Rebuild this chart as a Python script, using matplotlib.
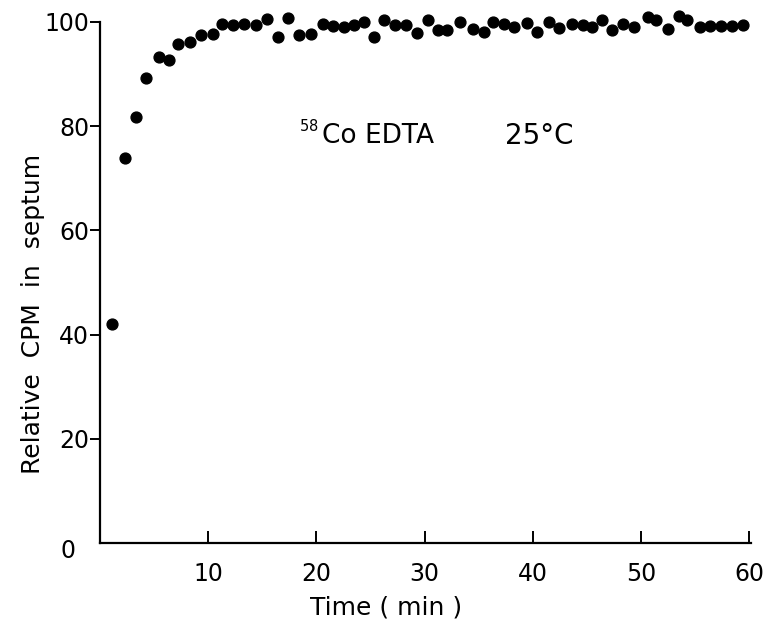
import matplotlib.pyplot as plt

# time (min) and relative CPM
time_min = [1.1, 2.3, 3.3, 4.25, 5.4, 6.4, 7.2, 8.3, 9.3, 10.4,
            11.3, 12.3, 13.3, 14.4, 15.4, 16.4, 17.4, 18.4, 19.5, 20.6,
            21.5, 22.5, 23.5, 24.4, 25.3, 26.2, 27.3, 28.3, 29.3, 30.3,
            31.2, 32.1, 33.3, 34.5, 35.5, 36.3, 37.3, 38.3, 39.5, 40.4,
            41.5, 42.4, 43.6, 44.6, 45.5, 46.4, 47.3, 48.3, 49.4, 50.7,
            51.4, 52.5, 53.5, 54.3, 55.5, 56.4, 57.4, 58.4, 59.4]
rel_cpm = [42.1, 73.8, 81.7, 89.3, 93.3, 92.6, 95.8, 96.1, 97.5, 97.6,
           99.5, 99.4, 99.6, 99.3, 100.6, 97.1, 100.7, 97.5, 97.6, 99.6,
           99.1, 99.0, 99.3, 99.9, 97.1, 100.4, 99.3, 99.3, 97.8, 100.3,
           98.5, 98.5, 99.9, 98.7, 98.0, 99.9, 99.6, 99.0, 99.8, 98.0,
           99.9, 98.8, 99.6, 99.3, 99.0, 100.3, 98.5, 99.6, 99.0, 101.0,
           100.4, 98.7, 101.2, 100.3, 99.0, 99.1, 99.1, 99.1, 99.4]

x_ticks = [10, 20, 30, 40, 50, 60]
y_ticks = [20, 40, 60, 80, 100]

plt.rcParams['font.family'] = ['DejaVu Sans']

fig = plt.figure(figsize=(7.65, 6.22), dpi=100)
ax = fig.add_axes([0.131, 0.127, 0.851, 0.838])

ax.plot(time_min, rel_cpm, 'o', color='black', markersize=7.8, clip_on=False)

ax.set_xlim(0, 60.2)
ax.set_ylim(0, 100)
ax.spines['top'].set_visible(False)
ax.spines['right'].set_visible(False)
for s in ['left', 'bottom']:
    ax.spines[s].set_linewidth(1.6)

ax.set_xticks(x_ticks)
ax.set_yticks(y_ticks)
ax.tick_params(axis='x', direction='in', length=9, width=1.4, labelsize=17, pad=14)
ax.tick_params(axis='y', direction='out', length=7, width=1.4, labelsize=17, pad=1)
ax.text(-3.0, -1.5, '0', fontsize=17, ha='center', va='center')

ax.set_xlabel('Time ( min )', fontsize=18)
ax.xaxis.set_label_coords(0.439, -0.1)
ax.set_ylabel('Relative  CPM  in  septum', fontsize=18)
ax.yaxis.set_label_coords(-0.085, 0.44)

ax.text(18.4, 79.2, r'$^{58}$', fontsize=15, ha='left', va='center')
ax.text(20.5, 78.0, 'Co EDTA', fontsize=19, ha='left', va='center')
ax.text(37.4, 78.0, '25°C', fontsize=20, ha='left', va='center')

fig.savefig('out.png', dpi=100)
